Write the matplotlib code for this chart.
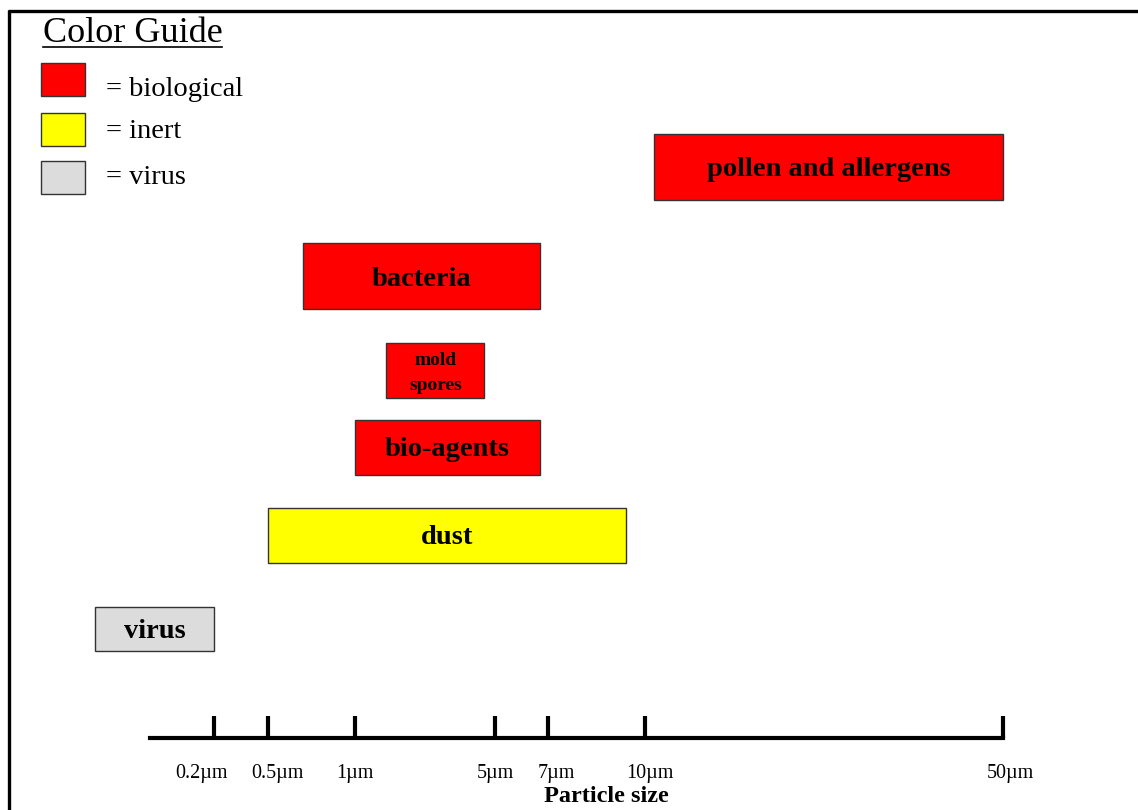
import numpy as np
import matplotlib
matplotlib.use('Agg')
import matplotlib.pyplot as plt
import matplotlib.transforms as mtransforms
from matplotlib.patches import Rectangle

plt.rcParams['font.family'] = ['Liberation Serif', 'DejaVu Serif']

W, H = 1138, 810

# --- data ---
tick_um = [0.2, 0.5, 1, 5, 7, 10, 50]
tick_labels = ['0.2µm', '0.5µm', '1µm', '5µm', '7µm', '10µm', '50µm']

particles = ['pollen and allergens', 'bacteria', 'mold\nspores', 'bio-agents', 'dust', 'virus']
size_min = [11, 0.7, 1.9, 1.0, 0.5, 0.01]
size_max = [50, 6.7, 4.7, 6.7, 9.4, 0.2]
kind = ['biological', 'biological', 'biological', 'biological', 'inert', 'virus']

guide = ['biological', 'inert', 'virus']
guide_colors = ['#ff0000', '#ffff00', '#dcdcdc']

# --- layout (pixels) ---
# the size axis is schematic, not log: piecewise-linear anchors
anchor_um = [0.01, 0.2, 0.5, 1, 5, 7, 10, 50]
anchor_px = [95, 214, 268, 355, 495, 548, 645, 1003]
row_y = [167, 276, 370, 447, 535, 629]
row_h = [66, 66, 55, 55, 55, 44]
label_size = [20.5, 20.5, 14, 20.5, 20.5, 20.5]
tick_shift = [-12, 9, 0, 0, 8, 5, 7]   # label nudges, as in the original drawing


def fwd(x):
    return np.interp(x, anchor_um, anchor_px)


def inv(p):
    return np.interp(p, anchor_px, anchor_um)


fig = plt.figure(figsize=(W / 100, H / 100), dpi=100)
fig.patch.set_facecolor('white')

ax_left, ax_right, ax_base = 150, 1003, 738
ax = fig.add_axes([ax_left / W, (H - ax_base) / H, (ax_right - ax_left) / W, ax_base / H])
ax.set_xscale('function', functions=(fwd, inv))
ax.set_xlim(inv(ax_left), 50)
ax.set_ylim(ax_base, 0)

for s in ['left', 'right', 'top']:
    ax.spines[s].set_visible(False)
ax.spines['bottom'].set_linewidth(3)
ax.set_yticks([])
ax.set_xticks(tick_um)
ax.set_xticklabels(tick_labels)
ax.xaxis.set_minor_locator(matplotlib.ticker.NullLocator())
ax.tick_params(axis='x', direction='in', length=16, width=3, pad=19, labelsize=14.5)
for lab, dx in zip(ax.get_xticklabels(), tick_shift):
    lab.set_transform(lab.get_transform() +
                      mtransforms.ScaledTranslation(dx / 100, 0, fig.dpi_scale_trans))

color_of = dict(zip(guide, guide_colors))
for i, name in enumerate(particles):
    ax.barh(row_y[i], size_max[i] - size_min[i], left=size_min[i], height=row_h[i],
            color=color_of[kind[i]], edgecolor='#333333', linewidth=1, clip_on=False)
    xc = inv((fwd(size_min[i]) + fwd(size_max[i])) / 2)
    ax.text(xc, row_y[i] + 3, name, ha='center', va='center', fontsize=label_size[i],
            fontweight='bold', linespacing=1.6, clip_on=False)

fig.text(606 / W, 1 - 796 / H, 'Particle size', ha='center', va='center',
         fontsize=17.5, fontweight='bold')

# overlay in pixel coords for frame and color guide
ov = fig.add_axes([0, 0, 1, 1])
ov.set_xlim(0, W)
ov.set_ylim(H, 0)
ov.axis('off')

ov.plot([8, W], [11, 11], color='black', lw=2.4, solid_capstyle='butt')
ov.plot([9.5, 9.5], [10, H], color='black', lw=2.4, solid_capstyle='butt')

ov.text(43, 34, 'Color Guide', ha='left', va='center', fontsize=26)
ov.plot([43, 222], [47, 47], color='black', lw=1.2)
sw_y = [63, 113, 161]
txt_y = [89, 131, 177]
for i, g in enumerate(guide):
    ov.add_patch(Rectangle((41, sw_y[i]), 44, 33, facecolor=guide_colors[i],
                           edgecolor='#333333', lw=1))
    ov.text(106, txt_y[i], '= ' + g, ha='left', va='center', fontsize=20.5)

fig.savefig('out.png', dpi=100, facecolor='white')
